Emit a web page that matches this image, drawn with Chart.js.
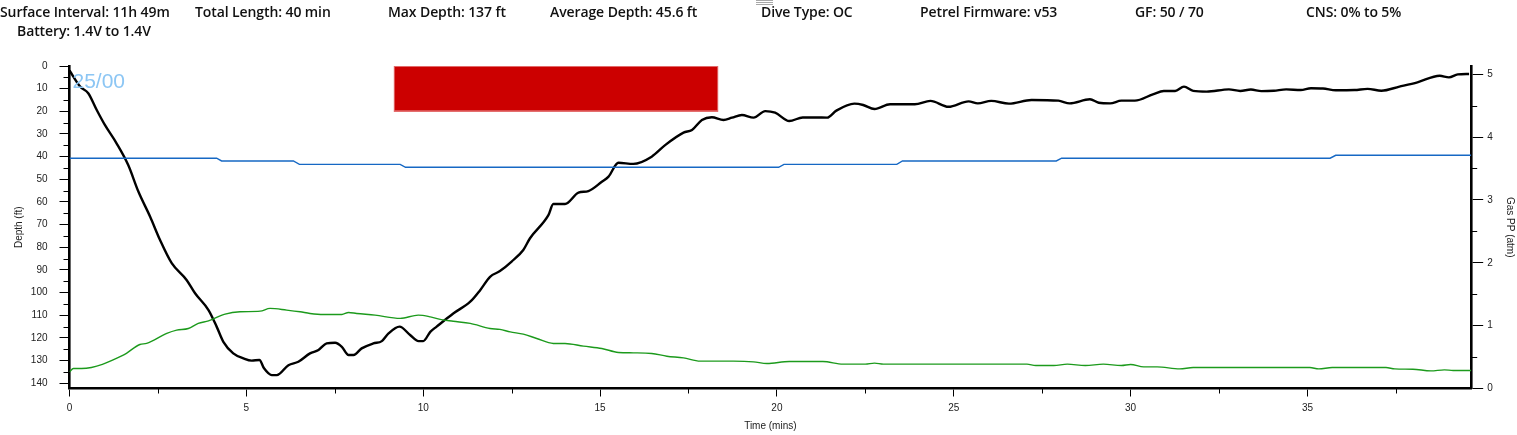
<!DOCTYPE html>
<html>
<head>
<meta charset="utf-8">
<script src="https://cdn.jsdelivr.net/npm/chart.js@4/dist/chart.umd.min.js"></script>
<style>
html,body{margin:0;padding:0;background:#fff;width:1517px;height:435px;overflow:hidden}
#wrap{position:relative;width:1517px;height:435px}
#c{position:absolute;left:0;top:0}
.h{position:absolute;font-family:"Open Sans",sans-serif;font-size:14px;font-weight:600;color:#111;white-space:nowrap;line-height:16px;letter-spacing:-0.1px}
.m{position:absolute;left:756px;width:17px;height:1px;background:#a8a8a8}
</style>
</head>
<body>
<div id="wrap">
<canvas id="c" width="1517" height="435"></canvas>
<div class="m" style="top:0px"></div><div class="m" style="top:2px"></div><div class="m" style="top:4px"></div>
</div>
<script>
// ---- header facts ----
const headerTexts = ["Surface Interval: 11h 49m","Total Length: 40 min","Max Depth: 137 ft","Average Depth: 45.6 ft","Dive Type: OC","Petrel Firmware: v53","GF: 50 / 70","CNS: 0% to 5%","Battery: 1.4V to 1.4V"];

// ---- depth profile (minutes, feet) ----
const depthTimes = [0,0.3,0.53,0.77,1.0,1.33,1.66,1.95,2.28,2.56,2.89,3.31,3.55,3.93,4.16,4.35,4.63,4.92,5.15,5.37,5.5,5.72,5.86,6.19,6.47,6.8,7.04,7.27,7.51,7.7,7.89,8.03,8.26,8.59,8.83,9.02,9.33,9.63,9.87,10.0,10.2,10.38,10.85,11.33,11.61,11.89,12.17,12.5,12.83,13.02,13.54,13.68,14.01,14.39,14.67,15.05,15.24,15.52,15.94,16.46,16.84,17.36,17.6,17.88,18.16,18.49,18.73,19.01,19.34,19.67,19.95,20.35,20.73,21.11,21.42,21.68,22.19,22.44,22.76,23.2,23.9,24.34,24.85,25.42,25.68,26.06,26.56,27.2,27.96,28.28,28.85,29.1,29.42,29.74,30.12,30.63,30.94,31.26,31.51,31.77,32.15,32.78,33.1,33.4,33.7,34.05,34.4,34.81,35.1,35.44,35.8,36.33,36.7,37.09,37.6,38.11,38.74,39.0,39.25,39.57];
const depthFeet = [2,9.1,12,19.4,26,34.1,43.7,55.5,66.5,76.8,87,94.4,100.3,107.7,115,121.7,126.8,129,130,129.7,133.4,136.4,136.4,132,130.5,126.8,125.3,122.4,122.1,123.9,127.5,127.5,124.6,122.4,121.4,118,115,118.7,121.4,121.4,117.3,115,109.2,104,98.9,93,90.5,86.3,81.2,76,65.8,60.9,60.9,55.9,55.2,51.1,48.8,42.7,43.2,40,34.9,29.4,28.2,23.8,22.6,23.8,22.8,21.6,22.8,19.9,20.6,24.3,22.7,22.7,22.8,19.7,16.6,17.2,19,16.9,16.9,15.4,18,15.6,16.5,15.4,16.6,15,15.3,16.5,14.7,16.2,16.5,15.3,15.3,12.5,11,11,9.1,11,11.3,10.3,11.0,10.4,11.1,10.9,10.3,10.6,9.8,9.9,10.7,10.6,10.1,10.9,9.1,7.2,4.3,5,3.7,3.5];

// ---- ppO2 (minutes, atm) ----
const ppTimes = [0,0.11,0.34,1.52,1.99,2.18,2.75,3.03,3.36,3.64,3.93,4.4,4.82,5.39,5.67,6.14,6.52,6.8,7.18,7.7,7.89,8.12,8.64,9.35,9.86,10.2,10.48,10.85,11.33,11.89,12.17,12.46,12.83,13.21,13.68,14.01,14.53,15.05,15.52,15.94,16.46,16.89,17.36,17.83,18.77,19.34,19.72,20.35,21.3,21.87,22.5,22.76,23.01,27.07,27.32,27.83,28.21,28.72,29.23,29.74,30.0,30.37,30.75,31.39,31.77,35.07,35.32,35.7,37.22,37.47,37.98,38.49,38.87,39.12,39.63];
const ppValues = [0.264,0.318,0.318,0.53,0.70,0.717,0.876,0.928,0.955,1.035,1.077,1.183,1.22,1.23,1.274,1.247,1.22,1.194,1.178,1.178,1.21,1.194,1.167,1.115,1.167,1.14,1.099,1.07,1.035,0.955,0.94,0.90,0.865,0.796,0.717,0.717,0.674,0.637,0.573,0.567,0.557,0.514,0.487,0.435,0.435,0.424,0.398,0.43,0.43,0.387,0.387,0.403,0.387,0.387,0.366,0.366,0.387,0.366,0.387,0.366,0.382,0.344,0.344,0.312,0.334,0.334,0.312,0.334,0.334,0.312,0.307,0.28,0.296,0.287,0.287];

// ---- blue trace (minutes, value on depth axis) ----
const blueTimes = [0,4.16,4.3,6.33,6.5,9.35,9.5,20.05,20.2,23.39,23.55,27.9,28.05,35.64,35.8,39.63];
const blueValues = [40.7,40.7,41.9,41.9,43.4,43.4,44.7,44.7,43.4,43.4,41.9,41.9,40.7,40.7,39.4,39.4];

// ---- red ceiling block ----
const ceilingTimes = [9.17, 18.34];
const ceilingDepth = [20, 20];

// ---- gas label ----
const gasLabel = "25/00";
const gasTime = 0;

// ---- axis ranges / titles ----
const timeRange = [0, 39.63];
const depthRange = [0, 142.3];
const ppRange = [0, 5.13];
const axisTitles = {x: "Time (mins)", y: "Depth (ft)", y1: "Gas PP (atm)"};

// header placement
const headerPos = [[0,4],[195,4],[388,4],[550,4],[761,4],[920,4],[1135,4],[1306,4],[17,23]];
const wrap = document.getElementById('wrap');
headerTexts.forEach((t,i)=>{
  const d=document.createElement('div');d.className='h';d.textContent=t;
  d.style.left=headerPos[i][0]+'px';d.style.top=headerPos[i][1]+'px';wrap.appendChild(d);
});

const zip=(xs,ys)=>xs.map((x,i)=>({x, y:ys[i]}));

Chart.defaults.font.family = '"Liberation Sans", Arial, sans-serif';
Chart.defaults.font.size = 10;
Chart.defaults.color = '#222';

const extras = {
  id:'extras',
  afterDraw(chart){
    const {ctx, chartArea:a, scales:{x,y,y1}} = chart;
    ctx.save();
    ctx.strokeStyle='#000'; ctx.lineWidth=1;
    ctx.beginPath();
    for(let v=5; v<y.max; v+=10){const p=Math.round(y.getPixelForValue(v))+0.5; ctx.moveTo(a.left-6,p); ctx.lineTo(a.left,p);}
    for(let v=0.5; v<y1.max; v+=1){const p=Math.round(y1.getPixelForValue(v))+0.5; ctx.moveTo(a.right,p); ctx.lineTo(a.right+6,p);}
    for(let v=2.5; v<x.max; v+=5){const p=Math.round(x.getPixelForValue(v))+0.5; ctx.moveTo(p,a.bottom); ctx.lineTo(p,a.bottom+5);}
    ctx.stroke();
    // light outline of the ceiling block
    const x0=x.getPixelForValue(ceilingTimes[0]), x1=x.getPixelForValue(ceilingTimes[1]);
    const yt=y.getPixelForValue(0), yb=y.getPixelForValue(ceilingDepth[0]);
    ctx.strokeStyle='#e26a6a'; ctx.lineWidth=1;
    ctx.strokeRect(x0+0.5, yt+0.5, x1-x0-1, yb-yt-1);
    ctx.fillStyle='#8cc6f4';
    ctx.font='21px "Liberation Sans", Arial, sans-serif';
    ctx.textBaseline='alphabetic'; ctx.textAlign='left';
    ctx.fillText(gasLabel, x.getPixelForValue(gasTime)+3, a.top+22);
    ctx.restore();
  }
};

new Chart(document.getElementById('c'), {
  type:'line',
  data:{datasets:[
    {label:'Ceiling', data:zip(ceilingTimes, ceilingDepth), yAxisID:'y', borderColor:'#e26060', borderWidth:1, backgroundColor:'#cc0000', fill:{value:0}, pointRadius:0, tension:0},
    {label:'Blue', data:zip(blueTimes, blueValues), yAxisID:'y', borderColor:'#1668c4', borderWidth:1.4, pointRadius:0, tension:0, fill:false},
    {label:'ppO2', data:zip(ppTimes, ppValues), yAxisID:'y1', borderColor:'#1c9a1c', borderWidth:1.4, pointRadius:0, cubicInterpolationMode:'monotone', fill:false},
    {label:'Depth', data:zip(depthTimes, depthFeet), yAxisID:'y', borderColor:'#000', borderWidth:2.4, pointRadius:0, cubicInterpolationMode:'monotone', fill:false}
  ]},
  options:{
    responsive:false, animation:false, devicePixelRatio:1,
    layout:{padding:{top:66,left:0,right:0,bottom:0}},
    plugins:{legend:{display:false}, tooltip:{enabled:false}},
    scales:{
      x:{type:'linear', position:'bottom', min:timeRange[0], max:timeRange[1],
        afterFit(s){s.height=46.5;},
        ticks:{stepSize:5, includeBounds:false, padding:6, color:'#222', maxRotation:0, autoSkip:false},
        grid:{drawOnChartArea:false, drawTicks:true, tickLength:8, tickColor:'#000', tickWidth:1},
        border:{display:true, color:'#000', width:2.6},
        title:{display:true, text:axisTitles.x, color:'#222', font:{size:10}, padding:{top:0,bottom:3}}},
      y:{type:'linear', position:'left', reverse:true, min:depthRange[0], max:depthRange[1],
        afterFit(s){s.width=69.5;},
        ticks:{stepSize:10, includeBounds:false, padding:12, color:'#222', autoSkip:false},
        grid:{drawOnChartArea:false, drawTicks:true, tickLength:10, tickColor:'#000', tickWidth:1},
        border:{display:true, color:'#000', width:2.6},
        title:{display:true, text:axisTitles.y, color:'#222', font:{size:10}, padding:{top:13.5,bottom:0}}},
      y1:{type:'linear', position:'right', min:ppRange[0], max:ppRange[1],
        afterFit(s){s.width=45.8;},
        ticks:{stepSize:1, includeBounds:false, padding:4, color:'#222', autoSkip:false},
        grid:{drawOnChartArea:false, drawTicks:true, tickLength:12, tickColor:'#000', tickWidth:1},
        border:{display:true, color:'#000', width:2.6},
        title:{display:true, text:axisTitles.y1, color:'#222', font:{size:10}, padding:{top:1,bottom:0}}}
    }
  },
  plugins:[extras]
});
</script>
</body>
</html>
